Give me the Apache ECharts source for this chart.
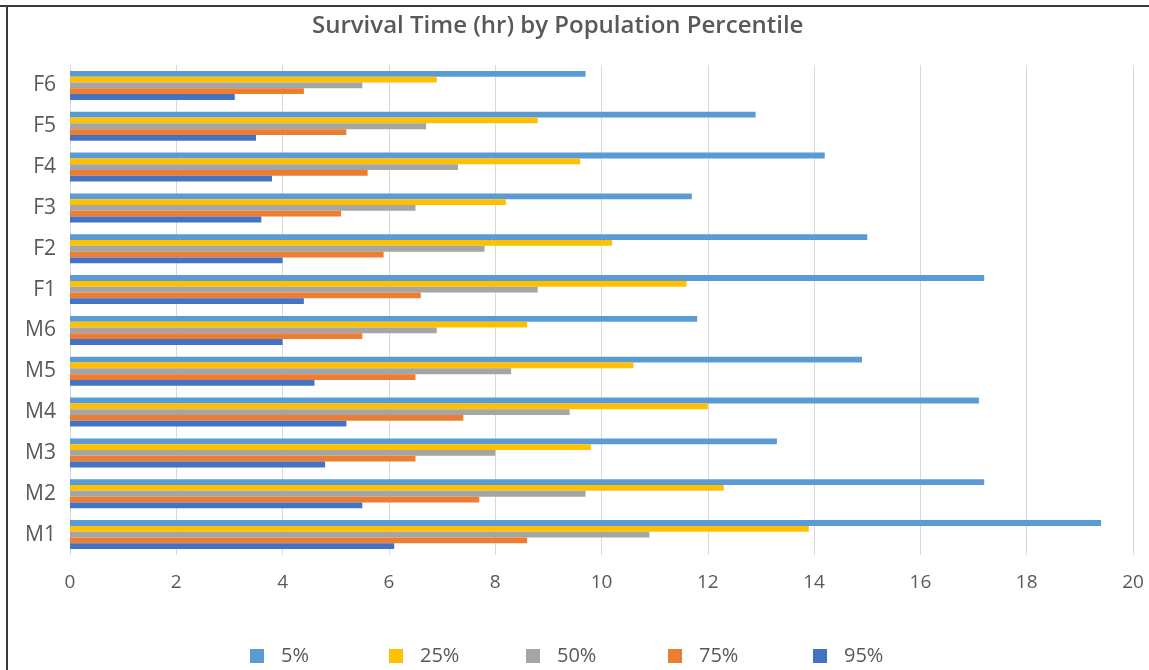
<!DOCTYPE html>
<html>
<head>
<meta charset="utf-8">
<script src="https://cdn.jsdelivr.net/npm/echarts@6/dist/echarts.min.js"></script>
<style>html,body{margin:0;padding:0;background:#fff}#chart{width:1149px;height:670px}</style>
</head>
<body>
<div id="chart"></div>
<script>
const categories = ['M1','M2','M3','M4','M5','M6','F1','F2','F3','F4','F5','F6'];
const seriesNames = ['5%','25%','50%','75%','95%'];
const p5  = [19.4,17.2,13.3,17.1,14.9,11.8,17.2,15.0,11.7,14.2,12.9,9.7];
const p25 = [13.9,12.3,9.8,12.0,10.6,8.6,11.6,10.2,8.2,9.6,8.8,6.9];
const p50 = [10.9,9.7,8.0,9.4,8.3,6.9,8.8,7.8,6.5,7.3,6.7,5.5];
const p75 = [8.6,7.7,6.5,7.4,6.5,5.5,6.6,5.9,5.1,5.6,5.2,4.4];
const p95 = [6.1,5.5,4.8,5.2,4.6,4.0,4.4,4.0,3.6,3.8,3.5,3.1];
const xTicks = [0,2,4,6,8,10,12,14,16,18,20];
const colors = ['#5B9BD5','#FFC000','#A5A5A5','#ED7D31','#4472C4'];
const values = [p5,p25,p50,p75,p95];

const chart = echarts.init(document.getElementById('chart'), null, {renderer:'canvas'});
const font = '"Open Sans", sans-serif';
const legendLefts = [250, 389, 526, 668, 813];
chart.setOption({
  backgroundColor:'#fff',
  animation:false,
  title:{text:'Survival Time (hr) by Population Percentile', left:307, top:9,
    textStyle:{fontFamily:font, fontSize:24, fontWeight:600, color:'#595959'}},
  grid:{left:70, right:16, top:65, height:490},
  xAxis:{type:'value', min:xTicks[0], max:xTicks[xTicks.length-1], interval:2,
    axisLine:{show:false}, axisTick:{show:false},
    axisLabel:{fontFamily:font, fontSize:19, color:'#595959', margin:18},
    splitLine:{lineStyle:{color:'#D9D9D9', width:1}}},
  yAxis:{type:'category', data:categories,
    axisLine:{show:false}, axisTick:{show:false},
    axisLabel:{fontFamily:font, fontSize:21, color:'#595959', margin:14}},
  legend: seriesNames.map((n,i)=>({
    data:[n], left:legendLefts[i], top:646, padding:0, itemWidth:14, itemHeight:14,
    icon:'rect',
    textStyle:{fontFamily:font, fontSize:20, color:'#595959', padding:[0,0,0,12]}
  })),
  graphic:[
    {type:'line', shape:{x1:0,y1:6,x2:1149,y2:6}, style:{stroke:'#3a3a3a', lineWidth:2}},
    {type:'line', shape:{x1:7,y1:6,x2:7,y2:670}, style:{stroke:'#3a3a3a', lineWidth:2}}
  ],
  series: seriesNames.map((n,i)=>({
    name:n, type:'bar', data:values[i], barGap:'0%', barCategoryGap:'29%',
    itemStyle:{color:colors[i]}
  }))
});
</script>
</body>
</html>
